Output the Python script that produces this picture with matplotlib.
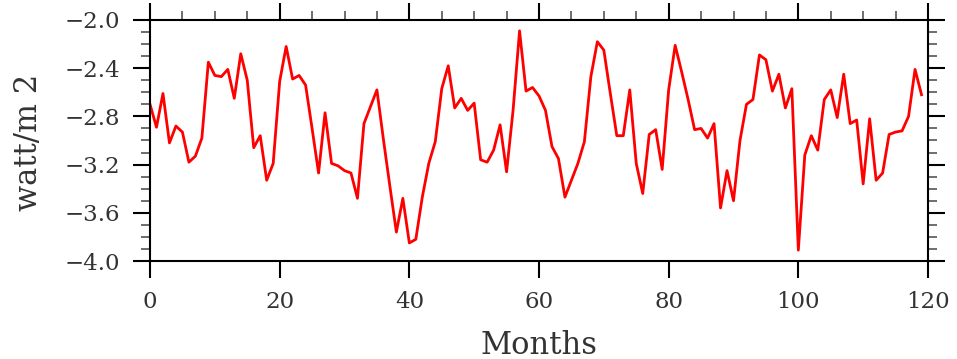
import matplotlib.pyplot as plt
from matplotlib.ticker import MultipleLocator

# monthly values (months 0..119)
months = list(range(120))
values = [
    -2.70, -2.89, -2.61, -3.02, -2.88, -2.93, -3.18, -3.13, -2.98, -2.35,
    -2.46, -2.47, -2.41, -2.65, -2.28, -2.50, -3.06, -2.96, -3.33, -3.19,
    -2.51, -2.22, -2.49, -2.46, -2.54, -2.90, -3.27, -2.77, -3.19, -3.21,
    -3.25, -3.27, -3.48, -2.86, -2.72, -2.58, -2.99, -3.38, -3.76, -3.48,
    -3.85, -3.82, -3.47, -3.19, -3.01, -2.57, -2.38, -2.73, -2.65, -2.75,
    -2.69, -3.16, -3.18, -3.08, -2.87, -3.26, -2.75, -2.09, -2.59, -2.56,
    -2.63, -2.75, -3.05, -3.15, -3.47, -3.33, -3.19, -3.01, -2.47, -2.18,
    -2.25, -2.61, -2.96, -2.96, -2.58, -3.19, -3.44, -2.95, -2.91, -3.24,
    -2.58, -2.21, -2.43, -2.66, -2.91, -2.90, -2.98, -2.86, -3.56, -3.25,
    -3.50, -3.00, -2.70, -2.66, -2.29, -2.33, -2.59, -2.45, -2.73, -2.57,
    -3.91, -3.12, -2.96, -3.08, -2.66, -2.58, -2.81, -2.45, -2.86, -2.83,
    -3.36, -2.82, -3.33, -3.27, -2.95, -2.93, -2.92, -2.80, -2.41, -2.62,
]
xticks = [0, 20, 40, 60, 80, 100, 120]
yticks = [-4.0, -3.6, -3.2, -2.8, -2.4, -2.0]

txt = '#333333'

fig = plt.figure(figsize=(9.57, 3.59), dpi=100)
ax = fig.add_axes([150 / 957, 1 - 261 / 359, 778 / 957, 241 / 359])

ax.plot(months, values, color='#ff0000', lw=2.0)

ax.set_xlim(0, 120)
ax.set_ylim(-4.0, -2.0)
ax.set_xticks(xticks)
ax.set_yticks(yticks)
ax.set_xticklabels([str(v) for v in xticks])
ax.set_yticklabels(['\u2212%.1f' % abs(v) for v in yticks])
ax.xaxis.set_minor_locator(MultipleLocator(5))
ax.yaxis.set_minor_locator(MultipleLocator(0.1))

for s in ax.spines.values():
    s.set_linewidth(1.5)

ax.tick_params(which='major', direction='out', length=12.5, width=1.5,
               color='black', labelsize=16.5, labelcolor=txt, pad=9,
               top=True, right=True)
ax.tick_params(which='minor', direction='out', length=6.5, width=1.2,
               color='#555555', top=True, right=True)
ax.tick_params(axis='x', which='minor', bottom=False)

for lab in ax.get_xticklabels() + ax.get_yticklabels():
    lab.set_family('DejaVu Serif')

ax.set_xlabel('Months', family='DejaVu Serif', fontsize=22, color=txt, labelpad=12)
fig.text(28 / 957, 1 - 142 / 359, 'watt/m 2', family='DejaVu Serif',
         fontsize=22, color=txt, rotation=90, ha='center', va='center')

fig.savefig('out.png', dpi=100)
